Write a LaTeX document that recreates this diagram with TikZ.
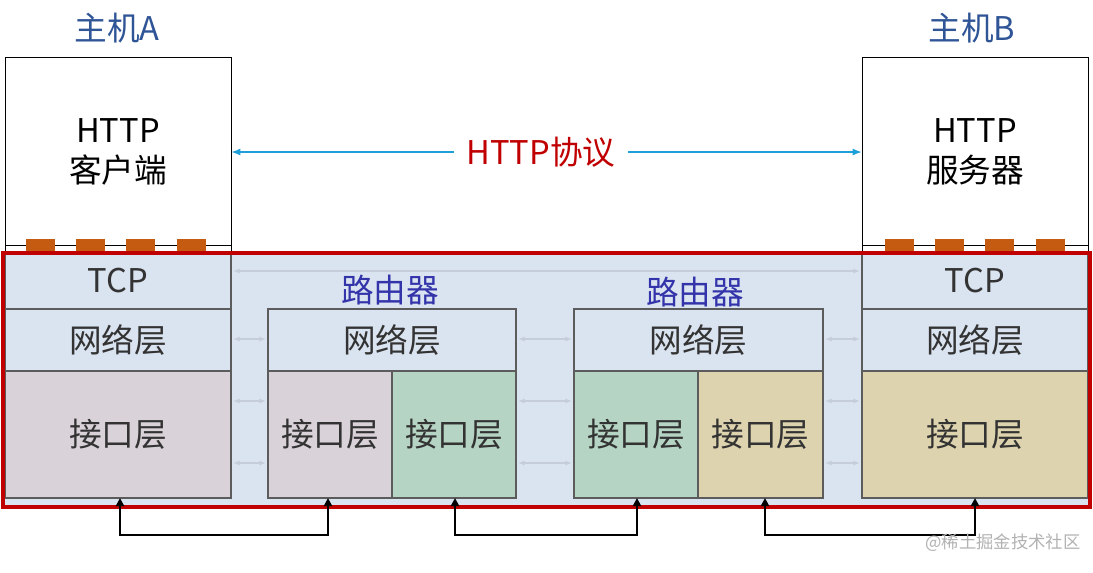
\documentclass[tikz,border=0pt]{standalone}
\usepackage{fontspec}
\setmainfont{Noto Sans CJK SC}
\usetikzlibrary{arrows.meta}
\definecolor{bgblue}{HTML}{DAE3F0}
\definecolor{pinkg}{HTML}{D9D2D8}
\definecolor{greeng}{HTML}{B5D4C3}
\definecolor{tang}{HTML}{DDD3AE}
\definecolor{hostc}{HTML}{2F5597}
\definecolor{routc}{HTML}{3333AA}
\definecolor{redc}{HTML}{C00000}
\definecolor{cyanc}{HTML}{1E9FD8}
\definecolor{orangec}{HTML}{C55A11}
\definecolor{faintc}{HTML}{C5CCDA}
\definecolor{txt}{HTML}{333333}
\begin{document}
\begin{tikzpicture}[x=0.75pt,y=-0.75pt,
  layer/.style={draw=txt!80,line width=0.8pt,text=txt,font=\fontsize{24.5}{28}\selectfont},
  title/.style={font=\fontsize{24.5}{28}\selectfont},
  faint/.style={draw=faintc,line width=1.5pt,{Latex[length=5pt]}-{Latex[length=5pt]}},
  link/.style={draw=black,line width=1.6pt,{Triangle[length=6pt,width=6pt]}-{Triangle[length=6pt,width=6pt]}},
  port/.style={fill=orangec,draw=none}]
\useasboundingbox (0,0) rectangle (1093,572);
\fill[white] (0,0) rectangle (1093,572);
\fill[bgblue] (3,253) rectangle (1090,507);
\draw[black,line width=0.6pt] (5,57) rectangle (231,253);
\draw[black,line width=0.6pt] (5,245) -- (231,245);
\draw[black,line width=0.6pt] (862,57) rectangle (1088,253);
\draw[black,line width=0.6pt] (862,245) -- (1088,245);
\foreach \x in {26,76,126,177}{\fill[orangec] (\x,239) rectangle ++(29,13);}
\foreach \x in {885,935,985,1036}{\fill[orangec] (\x,239) rectangle ++(29,13);}
\node[title,text=black,align=center] (cli) at (118,152) {HTTP\\[2pt]客户端};
\node[title,text=black,align=center] (srv) at (975,152) {HTTP\\[2pt]服务器};
\node[title,text=hostc] (ha) at (117,28) {主机A};
\node[title,text=hostc] (hb) at (972,28) {主机B};
\node[title,text=redc,inner sep=0pt] (proto) at (541,152) {HTTP协议};
\coordinate (aR) at (231,152); \coordinate (bL) at (862,152);
\draw[cyanc,line width=1.2pt,-{Latex[length=7pt]}] (proto.west) ++(-12,0) -- (aR);
\draw[cyanc,line width=1.2pt,-{Latex[length=7pt]}] (proto.east) ++(12,0) -- (bL);
\path[layer,fill=bgblue] (5,253) rectangle node (atcp) {TCP} (231,309);
\path[layer,fill=bgblue] (5,309) rectangle node (anet) {网络层} (231,371);
\path[layer,fill=pinkg] (5,371) rectangle node (aif) {接口层} (231,498);
\path[layer,fill=bgblue] (268,309) rectangle node (r1net) {网络层} (516,371);
\path[layer,fill=pinkg] (268,371) rectangle node (r1a) {接口层} (392,498);
\path[layer,fill=greeng] (392,371) rectangle node (r1b) {接口层} (516,498);
\node[title,text=routc] (r1) at (390,290) {路由器};
\path[layer,fill=bgblue] (574,309) rectangle node (r2net) {网络层} (823,371);
\path[layer,fill=greeng] (574,371) rectangle node (r2a) {接口层} (698,498);
\path[layer,fill=tang] (698,371) rectangle node (r2b) {接口层} (823,498);
\node[title,text=routc] (r2) at (695,292) {路由器};
\path[layer,fill=bgblue] (862,253) rectangle node (btcp) {TCP} (1088,309);
\path[layer,fill=bgblue] (862,309) rectangle node (bnet) {网络层} (1088,371);
\path[layer,fill=tang] (862,371) rectangle node (bif) {接口层} (1088,498);
\draw[faint] (233,271) -- (860,271);
\foreach \a/\b in {233/266,518/572,825/860}{
  \draw[faint] (\a,339) -- (\b,339);
  \draw[faint] (\a,401) -- (\b,401);
  \draw[faint] (\a,463) -- (\b,463);
}
\draw[redc,line width=2.5pt] (3,253) rectangle (1090,507);
\draw[link] (120,498) -- (120,535) -- (328,535) -- (328,498);
\draw[link] (455,498) -- (455,535) -- (637,535) -- (637,498);
\draw[link] (765,498) -- (765,535) -- (975,535) -- (975,498);
\node[text=gray!60,font=\fontsize{13}{15}\selectfont] (wm) at (1003,543) {@稀土掘金技术社区};
\end{tikzpicture}
\end{document}
